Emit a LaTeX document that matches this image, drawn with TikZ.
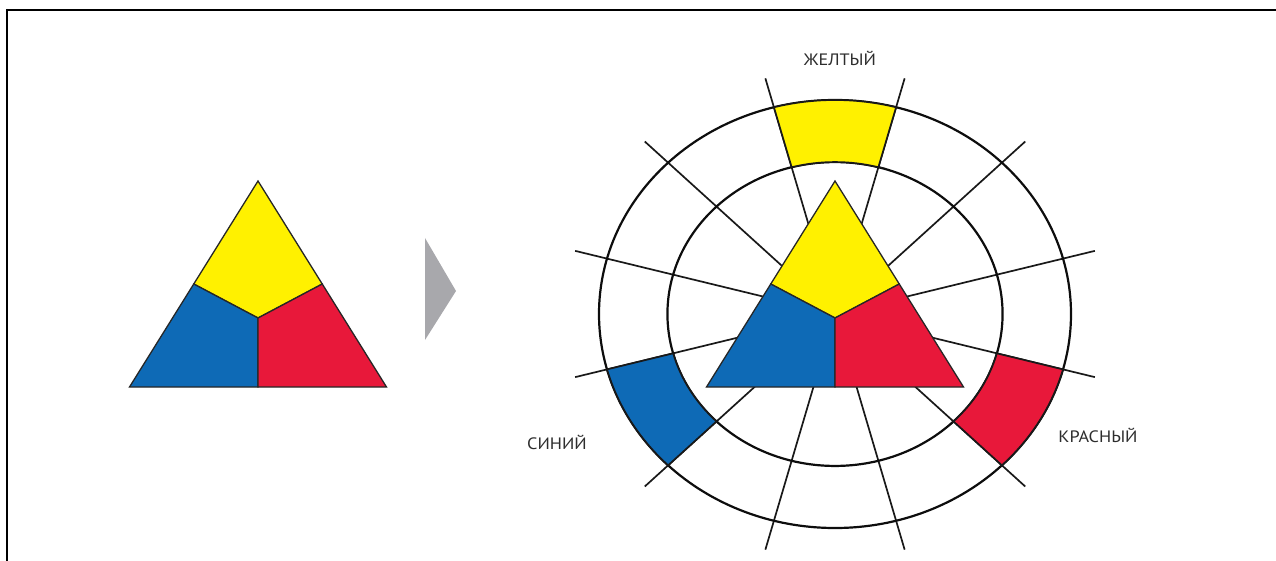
\documentclass[tikz,border=0pt]{standalone}
\usepackage{fontspec}
\setmainfont{PT Sans}
\usepackage{tikz}
\usetikzlibrary{positioning,calc}

\definecolor{wheelyellow}{RGB}{255,241,0}
\definecolor{wheelblue}{RGB}{14,106,182}
\definecolor{wheelred}{RGB}{232,24,58}
\definecolor{pointergray}{RGB}{168,168,172}
\definecolor{labelgray}{RGB}{45,45,45}

\tikzset{
  ring/.style={draw=black!95,line width=2.2pt},
  spoke/.style={draw=black!90,line width=1.7pt},
  segment/.style={draw=black!90,line width=1.7pt},
  tri/.style={draw=black!85,line width=1.3pt,line join=miter},
  colorname/.style={text=labelgray,font=\fontsize{16.5}{18}\selectfont,xscale=1.1,anchor=base}
}

\begin{document}
\begin{tikzpicture}[x=1pt,y=-1pt]
  \useasboundingbox (0,0) rectangle (1276,561);
  % frame lines
  \draw[line width=2pt] (6,10) -- (97,10);
  \draw[line width=1.2pt] (97,10) -- (1172,10);
  \draw[line width=2pt] (1172,10) -- (1276,10);
  \draw[line width=2.2pt] (7,9) -- (7,561);

  % colour wheel
  \begin{scope}[shift={(835,314)},x=236pt,y=214pt]
    \foreach \a in {15,45,...,345}
      \draw[spoke] (0,0) -- (\a:1.14);
    \draw[ring] (0,0) circle[radius=1];
    \draw[ring] (0,0) circle[radius=0.71];
    \foreach \a/\c in {75/wheelyellow,195/wheelblue,315/wheelred}{
      \pgfmathsetmacro{\b}{\a+30}
      \filldraw[segment,fill=\c] (\a:0.71) -- (\a:1)
        arc[start angle=\a,end angle=\b,radius=1] -- (\b:0.71)
        arc[start angle=\b,end angle=\a,radius=0.71] -- cycle;
    }
  \end{scope}

  % the two triangles
  \foreach \cx in {258,835}{
    \coordinate (apex) at (\cx,181);
    \coordinate (bl) at (\cx-128.5,387);
    \coordinate (br) at (\cx+128.5,387);
    \coordinate (ml) at (\cx-64.25,284);
    \coordinate (mr) at (\cx+64.25,284);
    \coordinate (mid) at (\cx,318);
    \coordinate (bm) at (\cx,387);
    \filldraw[tri,fill=wheelyellow] (apex) -- (mr) -- (mid) -- (ml) -- cycle;
    \filldraw[tri,fill=wheelblue] (ml) -- (mid) -- (bm) -- (bl) -- cycle;
    \filldraw[tri,fill=wheelred] (mr) -- (br) -- (bm) -- (mid) -- cycle;
  }

  % grey pointer
  \fill[pointergray] (425,238) -- (456,291) -- (425,340) -- cycle;

  \node[colorname] (yellowname) at (840,66) {ЖЕЛТЫЙ};
  \node[colorname] (bluename) at (557,449) {СИНИЙ};
  \node[colorname] (redname) at (1098,442) {КРАСНЫЙ};
\end{tikzpicture}
\end{document}
